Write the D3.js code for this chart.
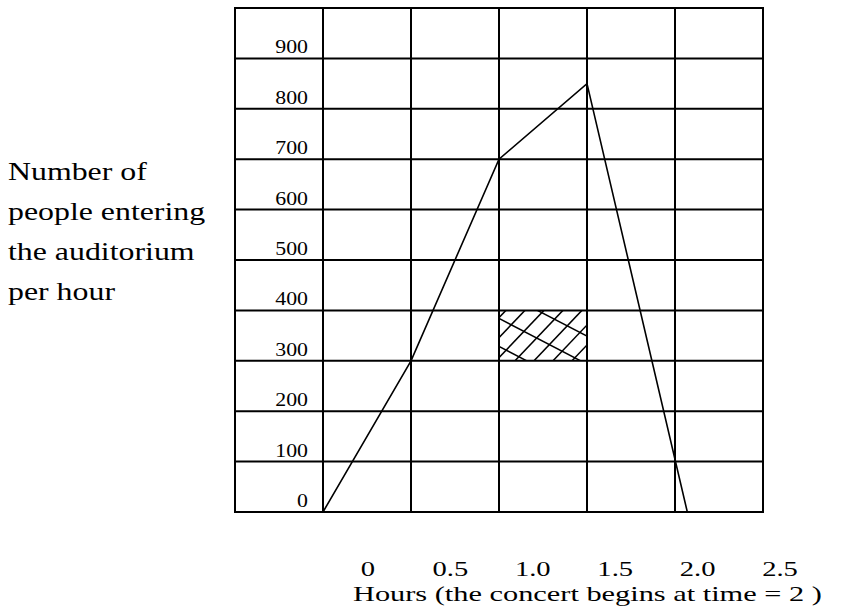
<!DOCTYPE html>
<html>
<head>
<meta charset="utf-8">
<script src="https://cdn.jsdelivr.net/npm/d3@7"></script>
<style>
html,body{margin:0;padding:0;background:#fff;}
svg{display:block;}
text{font-family:"Liberation Serif","Times New Roman",serif;fill:#000;}
</style>
</head>
<body>
<svg id="chart" width="856" height="606"></svg>
<script>
// ---- data ----
const hours  = [0, 0.5, 1.0, 1.5, 2.07];
const people = [0, 300, 700, 850, 0];
const yTickValues = [0, 100, 200, 300, 400, 500, 600, 700, 800, 900];
const xTickLabels = ["0", "0.5", "1.0", "1.5", "2.0", "2.5"];
const yTitleLines = ["Number of", "people entering", "the auditorium", "per hour"];
const xTitle = "Hours (the concert begins at time = 2 )";
const shadedHours = [1.0, 1.5];
const shadedPeople = [300, 400];

// ---- layout ----
const svg = d3.select("#chart");
const x = d3.scaleLinear().domain([-0.5, 2.5]).range([235, 763]);
const y = d3.scaleLinear().domain([0, 1000]).range([512, 8]);

// grid
const gx = d3.range(-0.5, 2.5001, 0.5);
const gy = d3.range(0, 1000.1, 100);
svg.append("g").selectAll("line").data(gx).join("line")
  .attr("x1", d => x(d)).attr("x2", d => x(d))
  .attr("y1", y(0)).attr("y2", y(1000))
  .attr("stroke", "#000").attr("stroke-width", 2);
svg.append("g").selectAll("line").data(gy).join("line")
  .attr("x1", x(-0.5) - 1).attr("x2", x(2.5) + 1)
  .attr("y1", d => y(d)).attr("y2", d => y(d))
  .attr("stroke", "#000").attr("stroke-width", 2);

// hatched cell
const cx0 = x(shadedHours[0]), cx1 = x(shadedHours[1]);
const cy0 = y(shadedPeople[1]), cy1 = y(shadedPeople[0]);
svg.append("clipPath").attr("id", "cellclip").append("rect")
  .attr("x", cx0).attr("y", cy0).attr("width", cx1 - cx0).attr("height", cy1 - cy0);
const hatch = svg.append("g").attr("clip-path", "url(#cellclip)")
  .attr("stroke", "#000").attr("stroke-width", 1.5);
const h = cy1 - cy0;
// "/" lines
d3.range(-60, 100, 19).forEach(o => {
  hatch.append("line").attr("x1", cx0 + o).attr("y1", cy1)
    .attr("x2", cx0 + o + h * 0.95).attr("y2", cy0);
});
// "\" lines (shallower)
d3.range(-80, 60, 28).forEach(o => {
  hatch.append("line").attr("x1", cx0).attr("y1", cy0 + 4 + o)
    .attr("x2", cx1).attr("y2", cy0 + 4 + o + (cx1 - cx0) * 0.52);
});

// data line
const line = d3.line().x((d, i) => x(hours[i])).y((d, i) => y(people[i]));
svg.append("path").datum(people).attr("d", line)
  .attr("fill", "none").attr("stroke", "#000").attr("stroke-width", 1.6)
  .attr("stroke-linejoin", "miter");

// y tick labels (inside first column, at bottom of each row)
svg.append("g").selectAll("text").data(yTickValues).join("text")
  .attr("transform", d => `translate(${x(0) - 15},${y(d) - 5}) scale(1.15,1)`)
  .attr("text-anchor", "end").attr("font-size", 19)
  .text(d => d);

// x tick labels
const xl = d3.scalePoint().domain(xTickLabels).range([368, 780]);
svg.append("g").selectAll("text").data(xTickLabels).join("text")
  .attr("transform", d => `translate(${xl(d)},576) scale(1.3,1)`)
  .attr("text-anchor", "middle").attr("font-size", 22)
  .text(d => d);

// x title
svg.append("text")
  .attr("transform", "translate(353,601) scale(1.38,1)")
  .attr("font-size", 22).text(xTitle);

// y title
svg.append("g").selectAll("text").data(yTitleLines).join("text")
  .attr("transform", (d, i) => `translate(8,${180 + i * 40}) scale(1.3,1)`)
  .attr("font-size", 24.5).text(d => d);
</script>
</body>
</html>
